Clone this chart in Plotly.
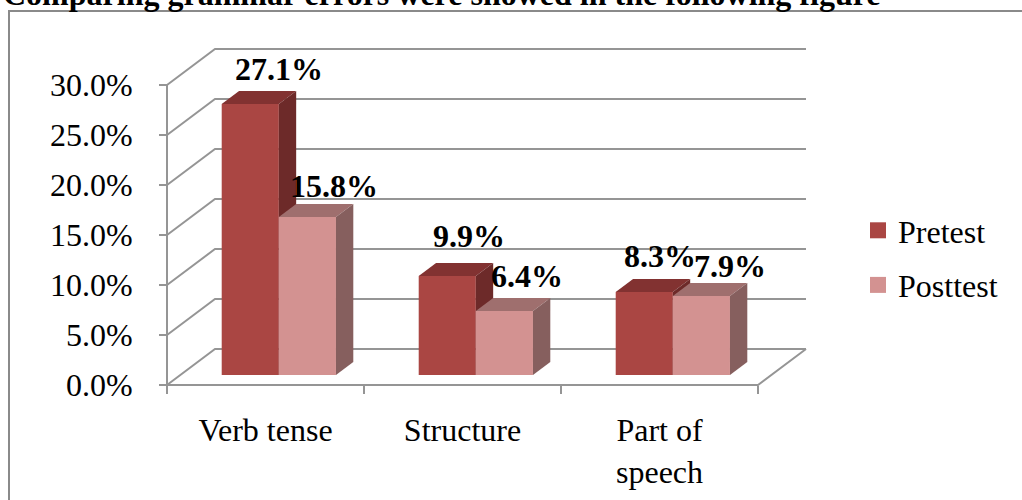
import plotly.graph_objects as go

# ---------------- data ----------------
CATEGORIES = ["Verb tense", "Structure", "Part of<br>speech"]
PRETEST = [27.1, 9.9, 8.3]
POSTTEST = [15.8, 6.4, 7.9]
SERIES_NAMES = ["Pretest", "Posttest"]
Y_TICKS = [0, 5, 10, 15, 20, 25, 30]
Y_TICK_LABELS = ["0.0%", "5.0%", "10.0%", "15.0%", "20.0%", "25.0%", "30.0%"]
TITLE = "Comparing grammar errors were showed in the following figure"

# ---------------- style / geometry ----------------
FONT = "Liberation Serif"
PX_X = 197.0          # pixels per category
PX_Y = 10.0           # pixels per 1 %
DEPTH_X = 48 / PX_X   # 3-D depth of the chart box (x units)
DEPTH_Y = 36 / PX_Y   # 3-D depth of the chart box (y units)
BAR_FRONT = 0.278     # depth fraction where the bar front faces stand
BAR_DEPTH = 0.361     # depth fraction of each bar
BAR_W = 0.29          # bar width (category units)
GRID = "#959595"
PRE_COLORS = ("#aa4643", "#823231", "#6d2a29")    # front, top, side
POST_COLORS = ("#d39291", "#9f6f6e", "#865f5e")
LABEL_SHIFT_PRE = [(20, 28), (13, 33), (7, 29)]
LABEL_SHIFT_POST = [(18, 24), (14, 28), (20, 23)]

n = len(CATEGORIES)
X_RANGE = [-10 / PX_X, n + DEPTH_X + 12 / PX_X]
Y_RANGE = [-5 / PX_Y, max(Y_TICKS) + DEPTH_Y + 6 / PX_Y]
PLOT_L, PLOT_R = 157, 157 + (X_RANGE[1] - X_RANGE[0]) * PX_X
PLOT_B = 390
PLOT_T = PLOT_B - (Y_RANGE[1] - Y_RANGE[0]) * PX_Y
PW, PH = PLOT_R - PLOT_L, PLOT_B - PLOT_T

fig = go.Figure()

# ---------- walls / floor (subplot 1) ----------
wx, wy = [], []
for v in Y_TICKS:
    wx += [0, DEPTH_X, n + DEPTH_X, None]
    wy += [v, v + DEPTH_Y, v + DEPTH_Y, None]
wx += [0, 0, None, 0, n, n + DEPTH_X, None]
wy += [0, max(Y_TICKS), None, 0, 0, DEPTH_Y, None]
fig.add_trace(go.Scatter(x=wx, y=wy, mode="lines", line=dict(color=GRID, width=2),
                         hoverinfo="skip", showlegend=False, xaxis="x", yaxis="y"))

base = BAR_FRONT * DEPTH_Y
ddx, ddy = BAR_DEPTH * DEPTH_X, BAR_DEPTH * DEPTH_Y
annotations = []

for k, (name, vals, cols, shifts, offset) in enumerate([
        (SERIES_NAMES[0], PRETEST, PRE_COLORS, LABEL_SHIFT_PRE, -BAR_W),
        (SERIES_NAMES[1], POSTTEST, POST_COLORS, LABEL_SHIFT_POST, 0.0)]):
    xa, ya = f"x{k + 2}", f"y{k + 2}"
    centers = [i + 0.5 + BAR_FRONT * DEPTH_X for i in range(n)]
    fig.add_trace(go.Bar(x=centers, y=vals, base=[base] * n, width=[BAR_W] * n,
                         offset=[offset] * n, marker=dict(color=cols[0], line=dict(width=0)),
                         name=name, showlegend=False, xaxis=xa, yaxis=ya))
    for c, v, (sx, sy) in zip(centers, vals, shifts):
        xl, xr = c + offset, c + offset + BAR_W
        top = base + v
        fig.add_trace(go.Scatter(
            x=[xl, xr, xr + ddx, xl + ddx, xl], y=[top, top, top + ddy, top + ddy, top],
            fill="toself", fillcolor=cols[1], mode="lines", line=dict(width=0, color=cols[1]),
            hoverinfo="skip", showlegend=False, xaxis=xa, yaxis=ya))
        fig.add_trace(go.Scatter(
            x=[xr, xr, xr + ddx, xr + ddx, xr], y=[base, top, top + ddy, base + ddy, base],
            fill="toself", fillcolor=cols[2], mode="lines", line=dict(width=0, color=cols[2]),
            hoverinfo="skip", showlegend=False, xaxis=xa, yaxis=ya))
        annotations.append(dict(
            x=(xl + xr) / 2 + ddx / 2, y=top + ddy / 2, xref="x", yref="y",
            text=f"<b>{v:.1f}%</b>", showarrow=False, xanchor="center", yanchor="middle",
            xshift=sx, yshift=sy, font=dict(family=FONT, size=32, color="black")))
    # legend entry
    fig.add_trace(go.Scatter(x=[None], y=[None], mode="markers", name=name,
                             legendgroup=name,
                             marker=dict(symbol="square", size=18, color=cols[0]),
                             xaxis="x", yaxis="y"))

# title (cut off at page top as in the reference)
annotations.append(dict(
    x=(1 - PLOT_L) / PW, y=(PLOT_B + 6) / PH, xref="paper", yref="paper",
    text=f"<b>{TITLE}</b>", showarrow=False, xanchor="left", yanchor="middle",
    font=dict(family=FONT, size=32, color="black")))

hidden = dict(visible=False, showgrid=False, zeroline=False, fixedrange=True)
layout_axes = {}
for k in (2, 3):
    layout_axes[f"xaxis{k}"] = dict(hidden, range=X_RANGE, overlaying="x")
    layout_axes[f"yaxis{k}"] = dict(hidden, range=Y_RANGE, overlaying="y", anchor=f"x{k}")

fig.update_layout(
    width=1022, height=500,
    autosize=False,
    margin=dict(l=PLOT_L, r=1022 - PLOT_R, t=PLOT_T, b=500 - PLOT_B, autoexpand=False),
    paper_bgcolor="white", plot_bgcolor="white",
    barmode="overlay",
    font=dict(family=FONT, size=32, color="black"),
    xaxis=dict(range=X_RANGE, showgrid=False, zeroline=False, showline=False,
               tickmode="array", tickvals=[i + 0.5 for i in range(n)], ticktext=CATEGORIES,
               ticks="", anchor="free", position=(PLOT_B - 385) / PH,
               ticklabelstandoff=23,
               minor=dict(tickmode="array", tickvals=list(range(n + 1)), ticks="outside",
                          ticklen=8, tickwidth=2, tickcolor=GRID, showgrid=False),
               tickfont=dict(family=FONT, size=32, color="black")),
    yaxis=dict(range=Y_RANGE, showgrid=False, zeroline=False, showline=False,
               tickmode="array", tickvals=Y_TICKS, ticktext=Y_TICK_LABELS,
               ticks="outside", ticklen=8, tickwidth=2, tickcolor=GRID,
               anchor="free", position=10 / PW, ticklabelstandoff=20,
               tickfont=dict(family=FONT, size=32, color="black")),
    legend=dict(x=(858 - PLOT_L) / PW, y=(PLOT_B - 258) / PH, xanchor="left", yanchor="middle",
                font=dict(family=FONT, size=32, color="black"), bgcolor="rgba(0,0,0,0)",
                itemsizing="trace", tracegroupgap=10, traceorder="grouped"),
    annotations=annotations,
    shapes=[dict(type="rect", xref="paper", yref="paper",
                 x0=(9 - PLOT_L) / PW, x1=(1040 - PLOT_L) / PW,
                 y0=(PLOT_B - 520) / PH, y1=(PLOT_B - 11) / PH,
                 line=dict(color="#8a8a8a", width=2), fillcolor="rgba(0,0,0,0)", layer="below")],
    **layout_axes,
)

fig.write_html("out.html", config={"displayModeBar": False},
               post_script="document.body.style.margin='0px';")
